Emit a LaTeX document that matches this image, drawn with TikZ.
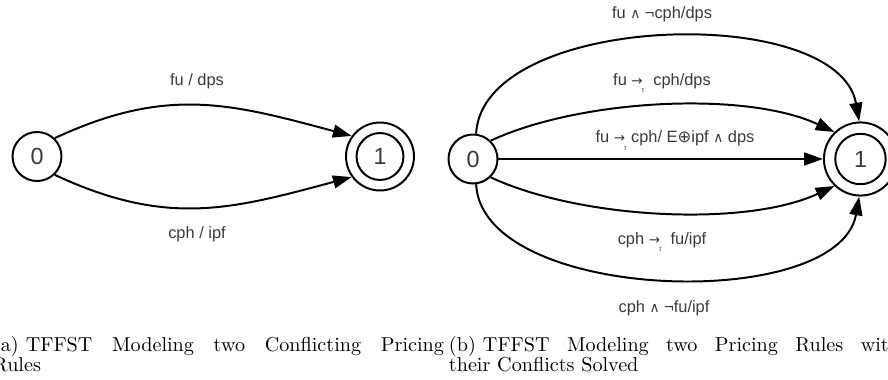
\documentclass[tikz,border=0pt]{standalone}
\usepackage{fontspec}
\newfontfamily\lblfont{Liberation Sans}
\newfontfamily\djvfont{DejaVu Sans}
\usetikzlibrary{arrows.meta}
\definecolor{txtgray}{HTML}{3A3A3A}
\newcommand\andsym{{\djvfont\fontsize{7}{8}\selectfont ∧}}
\newcommand\tauarr{{\djvfont\fontsize{6.8}{8}\selectfont →}\kern-0.6pt\raisebox{-0.9ex}{\fontsize{3.5}{4}\selectfont τ}}
\newcommand\xorsym{{\djvfont ⊕}}
\begin{document}
\begin{tikzpicture}[x=0.506pt,y=0.506pt,line width=1pt,>={Triangle[length=9.5pt,width=6.5pt]},
state/.style={draw,circle,inner sep=0pt,minimum size=24.8pt,text=txtgray,font=\lblfont\fontsize{11.8}{12}\selectfont},
final/.style={state,minimum size=#1,path picture={\draw[line width=1pt] (path picture bounding box.center) circle (0.345*#1);}},
final/.default=34.4pt,
lbl/.style={anchor=base,inner sep=0pt,text=txtgray,font=\lblfont\fontsize{8.3}{10}\selectfont},
capbox/.style={anchor=base west,inner sep=0pt,text width=228.2pt,align=justify,font=\fontsize{10.2}{10.6}\selectfont}]
\useasboundingbox (0,0) rectangle (888,379);
% (a) conflicting rules
\draw (37,222.5) node[state] (l0) {0};
\draw (380,222.5) node[final] (l1) {1};
\draw[->] (l0.46) to[out=25,in=165,looseness=1.07] (l1.144);
\draw[->] (l0.-46) to[out=-25,in=-165,looseness=1.07] (l1.-144);
\draw (197,294) node[lbl] (lfu) {fu / dps};
\draw (197,141) node[lbl] (lcph) {cph / ipf};
% (b) conflicts solved
\draw (473,220) node[state] (r0) {0};
\draw (860.5,220) node[final=37pt] (r1) {1};
\draw[->] (r0.83) to[out=87,in=100,looseness=0.81] (r1.92);
\draw[->] (r0.46) to[out=25,in=155,looseness=0.73] (r1.134);
\draw[->] (r0) -- (r1);
\draw[->] (r0.-46) to[out=-25,in=-155,looseness=0.73] (r1.-134);
\draw[->] (r0.-83) to[out=-87,in=-100,looseness=0.79] (r1.-92);
\draw (662,360.7) node[lbl] (rfu) {fu \andsym\ ¬cph/dps};
\draw (662,294) node[lbl] (rfut) {fu \tauarr\ \ cph/dps};
\draw (675,236.5) node[lbl] (rboth) {fu \tauarr\ cph/ E\xorsym{}ipf \andsym\ dps};
\draw (662,135) node[lbl] (rcpht) {cph \tauarr\ \ fu/ipf};
\draw (664,66.7) node[lbl] (rcph) {cph \andsym\ ¬fu/ipf};
% captions
\draw (-8,28) node[capbox] (capa) {(a)\hspace{3.6pt}TFFST Modeling two Conflicting Pricing\linebreak Rules};
\draw (448,28) node[capbox] (capb) {(b)\hspace{3.6pt}TFFST Modeling two Pricing Rules with\linebreak their Conflicts Solved};
\end{tikzpicture}
\end{document}
